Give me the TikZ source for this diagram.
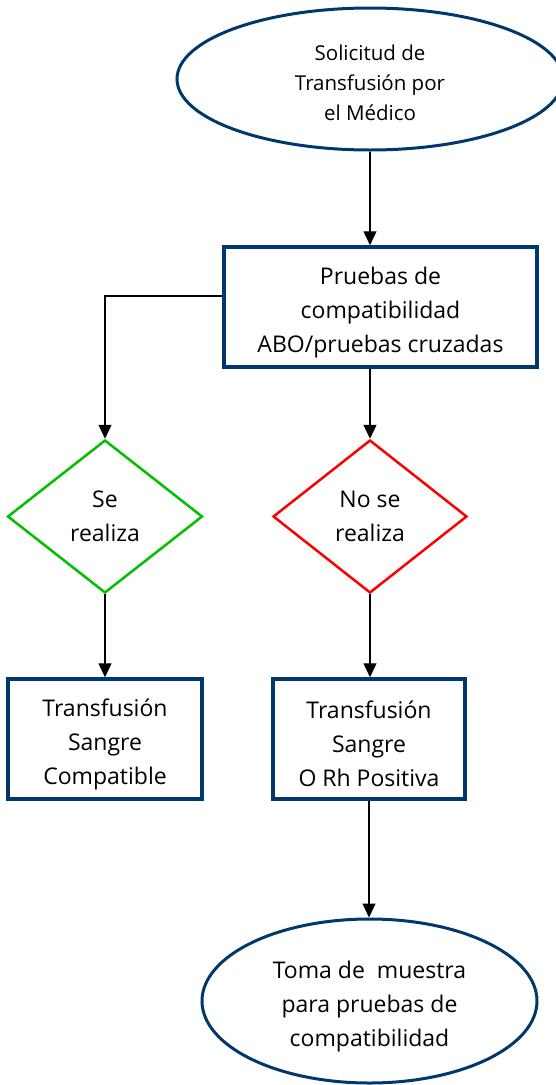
\documentclass[tikz,border=0pt]{standalone}
\usepackage{fontspec}
\setmainfont{Open Sans}
\usetikzlibrary{shapes.geometric,arrows.meta}
\definecolor{navyline}{RGB}{0,56,108}
\definecolor{okgreen}{RGB}{0,192,0}
\newcommand{\lowtop}{\rule{0pt}{28pt}}

\begin{document}
\begin{tikzpicture}[x=1pt, y=-1pt,
  bigfont/.style={font=\fontsize{23}{34}\selectfont},
  box/.style={draw=navyline, line width=3.5pt, fill=white, inner sep=0pt, align=center, bigfont},
  oval/.style={ellipse, draw=navyline, line width=3pt, fill=white, inner sep=0pt, align=center},
  choice/.style={diamond, line width=2.5pt, fill=white, inner sep=0pt, align=center, bigfont},
  arrow/.style={line width=1.3pt, -{Triangle[length=14pt,width=13pt]}}]
\useasboundingbox (0,0) rectangle (555,1085);

\node[oval, minimum width=386, minimum height=142, font=\fontsize{20.5}{30}\selectfont] (S) at (370,79) {\rule{0pt}{24pt}Solicitud de\\Transfusión por\\el Médico};
\node[box, minimum width=313, minimum height=120] (P) at (380.5,307) {\lowtop Pruebas de\\compatibilidad\\ABO/pruebas cruzadas};

\node[choice, draw=okgreen, minimum width=195, minimum height=153] (Si) at (105,516.5) {Se\\realiza};
\node[choice, draw=red, minimum width=194, minimum height=153] (No) at (370,516.5) {No se\\realiza};

\node[box, minimum width=194, minimum height=120] (TC) at (105,739) {\lowtop Transfusión\\Sangre\\Compatible};
\node[box, minimum width=192, minimum height=120] (TO) at (369,739) {\lowtop Transfusión\\Sangre\\O Rh Positiva};

\node[oval, minimum width=335, minimum height=164, bigfont] (M) at (369.5,1001) {\lowtop Toma de~ muestra\\para pruebas de\\compatibilidad};

\draw[arrow] (S.south) -- (S.south |- P.north);
\draw[arrow] (No.north |- P.south) -- (No.north);
\draw[arrow] ([yshift=11pt]P.west) -| (Si.north);
\draw[arrow] (Si.south) -- (TC.north);
\draw[arrow] (No.south) -- (No.south |- TO.north);
\draw[arrow] (TO.south) -- (TO.south |- M.north);

\end{tikzpicture}
\end{document}
